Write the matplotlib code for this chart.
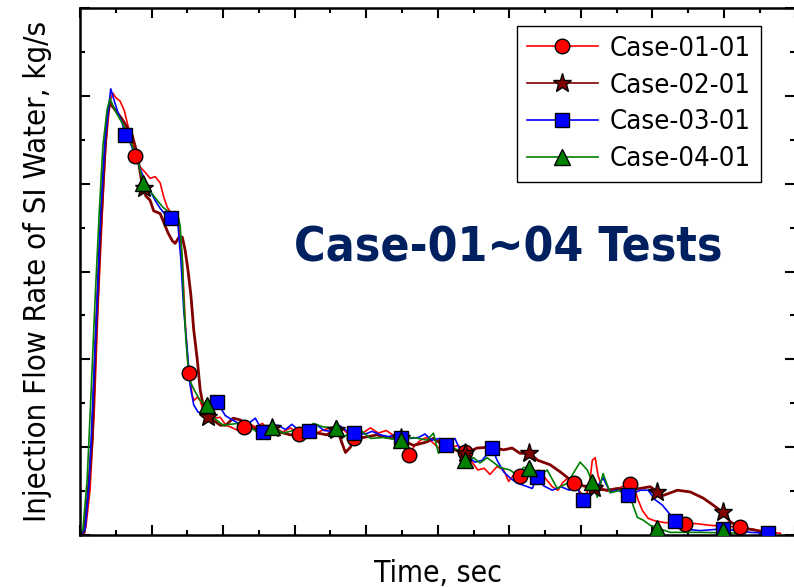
import numpy as np
import matplotlib
matplotlib.use("Agg")
import matplotlib.pyplot as plt
from matplotlib.lines import Line2D

# Case-01-01 (red)
c1_t = [0, 8, 14, 20, 25, 31, 36, 42, 46, 50, 56, 62, 67, 73, 77, 84, 91, 98, 105, 112, 117, 122, 127, 134,
        138, 143, 147, 151, 154, 157, 159, 164, 168, 172, 179, 187, 196, 204, 213, 221, 229, 238, 246, 255,
        263, 273, 283, 294, 306, 316, 327, 338, 350, 361, 372, 383, 395, 406, 417, 428, 439, 448, 455, 460,
        467, 476, 484, 492, 501, 510, 520, 529, 538, 548, 556, 565, 573, 583, 592, 599, 607, 615, 624, 632,
        641, 650, 660, 668, 675, 682, 691, 699, 706, 712, 716, 720, 724, 730, 737, 744, 752, 761, 768, 775,
        780, 786, 794, 804, 818, 832, 846, 860, 881, 902, 923, 944, 965, 979]
c1_y = [0, 0.08, 0.51, 1.42, 2.56, 3.64, 4.43, 4.94, 5.03, 4.98, 4.94, 4.83, 4.66, 4.47, 4.32, 4.19, 4.13,
        4.06, 4.08, 4.01, 3.85, 3.73, 3.67, 3.68, 3.58, 3.13, 2.44, 1.93, 1.76, 1.59, 1.53, 1.57, 1.53, 1.42,
        1.36, 1.33, 1.34, 1.25, 1.22, 1.19, 1.23, 1.26, 1.23, 1.27, 1.19, 1.23, 1.17, 1.22, 1.15, 1.19, 1.14,
        1.19, 1.22, 1.25, 1.17, 1.11, 1.16, 1.22, 1.16, 1.19, 1.13, 1.05, 0.97, 0.91, 1.01, 1.08, 1.11, 1.06,
        0.99, 1.04, 1.00, 1.02, 0.94, 0.83, 0.74, 0.76, 0.69, 0.78, 0.74, 0.61, 0.69, 0.67, 0.74, 0.65, 0.74,
        0.65, 0.55, 0.51, 0.60, 0.65, 0.59, 0.49, 0.42, 0.57, 0.85, 0.88, 0.68, 0.53, 0.50, 0.51, 0.53, 0.56,
        0.58, 0.53, 0.40, 0.28, 0.19, 0.16, 0.14, 0.14, 0.13, 0.13, 0.11, 0.10, 0.09, 0.06, 0.03, 0.02]
c1_mt = [77, 152, 229, 306, 383, 460, 538, 615, 691, 768, 846, 923]
c1_my = [4.32, 1.84, 1.23, 1.15, 1.11, 0.91, 0.94, 0.67, 0.59, 0.58, 0.13, 0.09]

# Case-02-01 (dark red)
c2_t = [0, 6, 11, 17, 22, 28, 34, 38, 42, 48, 53, 60, 66, 73, 80, 87, 92, 98, 103, 112, 117, 123, 129, 133,
        139, 143, 147, 151, 155, 159, 164, 168, 172, 179, 186, 196, 204, 214, 224, 238, 252, 266, 280, 294,
        310, 326, 345, 359, 366, 371, 378, 385, 396, 415, 429, 448, 466, 485, 494, 503, 517, 538, 555, 573,
        592, 604, 615, 628, 640, 657, 671, 685, 699, 716, 737, 751, 765, 783, 797, 807, 815, 835, 853, 871,
        885, 898, 909, 923, 941, 961]
c2_y = [0, 0.03, 0.45, 1.08, 2.22, 3.35, 4.26, 4.77, 4.92, 4.85, 4.80, 4.72, 4.64, 4.55, 4.34, 3.98, 3.86,
        3.81, 3.69, 3.66, 3.56, 3.44, 3.35, 3.32, 3.40, 3.39, 3.24, 3.01, 2.73, 2.33, 1.99, 1.65, 1.48, 1.36,
        1.31, 1.25, 1.25, 1.33, 1.31, 1.23, 1.19, 1.22, 1.17, 1.14, 1.14, 1.17, 1.14, 1.22, 1.05, 0.94, 1.00,
        1.14, 1.11, 1.14, 1.11, 1.09, 1.02, 1.06, 1.10, 1.05, 0.99, 0.93, 0.99, 1.00, 0.97, 0.99, 0.93, 0.93,
        0.85, 0.80, 0.72, 0.63, 0.57, 0.53, 0.51, 0.53, 0.51, 0.53, 0.55, 0.49, 0.45, 0.51, 0.49, 0.42, 0.34,
        0.26, 0.15, 0.08, 0.06, 0.02]
c2_mt = [90, 179, 269, 358, 448, 538, 628, 719, 807, 898]
c2_my = [3.95, 1.34, 1.22, 1.20, 1.10, 0.93, 0.93, 0.53, 0.49, 0.26]

# Case-03-01 (blue)
c3_t = [0, 7, 13, 18, 24, 29, 35, 41, 43, 48, 53, 59, 63, 70, 77, 84, 91, 98, 105, 112, 119, 127, 133, 137,
        141, 145, 150, 154, 159, 165, 172, 182, 192, 203, 213, 224, 234, 245, 256, 266, 277, 287, 296, 308,
        320, 330, 341, 352, 364, 375, 383, 399, 408, 420, 431, 441, 448, 462, 473, 482, 492, 503, 512, 524,
        531, 541, 552, 562, 576, 583, 592, 601, 611, 622, 632, 639, 648, 660, 672, 684, 694, 703, 712, 720,
        731, 741, 752, 766, 783, 794, 804, 814, 822, 832, 842, 853, 867, 898, 937, 961, 972]
c3_y = [0, 0.06, 0.63, 1.53, 2.67, 3.69, 4.49, 4.94, 5.08, 4.94, 4.81, 4.69, 4.55, 4.47, 4.32, 4.17, 4.03,
        3.92, 3.81, 3.72, 3.65, 3.61, 3.61, 3.52, 3.13, 2.56, 2.10, 1.70, 1.48, 1.40, 1.38, 1.42, 1.51, 1.36,
        1.31, 1.26, 1.26, 1.33, 1.17, 1.24, 1.25, 1.20, 1.26, 1.18, 1.18, 1.26, 1.19, 1.18, 1.24, 1.17, 1.16,
        1.15, 1.18, 1.14, 1.12, 1.14, 1.10, 1.10, 1.11, 1.15, 1.08, 1.10, 1.03, 1.10, 0.97, 0.90, 0.83, 0.85,
        0.99, 0.85, 0.72, 0.65, 0.59, 0.56, 0.53, 0.66, 0.56, 0.51, 0.55, 0.51, 0.55, 0.40, 0.43, 0.51, 0.65,
        0.49, 0.51, 0.45, 0.51, 0.51, 0.40, 0.34, 0.26, 0.16, 0.09, 0.06, 0.05, 0.07, 0.03, 0.02, 0.02]
c3_mt = [63, 127, 192, 256, 320, 383, 448, 512, 576, 639, 703, 766, 832, 898, 961]
c3_my = [4.55, 3.61, 1.51, 1.17, 1.18, 1.16, 1.10, 1.03, 0.99, 0.66, 0.40, 0.45, 0.16, 0.07, 0.02]

# Case-04-01 (green)
c4_t = [0, 4, 10, 15, 21, 27, 32, 38, 42, 49, 59, 67, 74, 80, 88, 95, 105, 116, 126, 136, 140, 143, 145,
        148, 151, 155, 161, 168, 178, 186, 200, 220, 238, 252, 269, 284, 298, 312, 326, 340, 358, 368, 387,
        406, 424, 448, 466, 485, 494, 501, 510, 527, 538, 550, 559, 569, 587, 601, 611, 620, 628, 639, 653,
        667, 681, 699, 709, 716, 723, 731, 741, 755, 765, 772, 779, 787, 797, 807, 825, 867, 923]
c4_y = [0, 0.06, 0.63, 1.53, 2.67, 3.69, 4.43, 4.85, 4.97, 4.83, 4.69, 4.57, 4.40, 4.30, 4.01, 3.95, 3.84,
        3.73, 3.67, 3.67, 3.52, 3.13, 2.67, 2.22, 1.93, 1.73, 1.63, 1.53, 1.48, 1.34, 1.25, 1.27, 1.23, 1.14,
        1.23, 1.16, 1.19, 1.16, 1.27, 1.23, 1.22, 1.11, 1.23, 1.10, 1.11, 1.08, 1.11, 1.08, 1.16, 0.93, 1.05,
        0.97, 0.85, 0.88, 0.82, 0.88, 0.77, 0.74, 0.68, 0.77, 0.76, 0.66, 0.74, 0.53, 0.59, 0.83, 0.74, 0.60,
        0.43, 0.70, 0.48, 0.51, 0.49, 0.36, 0.20, 0.17, 0.11, 0.08, 0.03, 0.03, 0.02]
c4_mt = [88, 178, 269, 358, 448, 538, 628, 716, 807, 898]
c4_my = [4.01, 1.48, 1.23, 1.22, 1.08, 0.85, 0.76, 0.60, 0.08, 0.06]

labels = ["Case-01-01", "Case-02-01", "Case-03-01", "Case-04-01"]

plt.rcParams["font.family"] = "DejaVu Sans"
plt.rcParams["font.stretch"] = "condensed"

fig = plt.figure(figsize=(7.94, 5.88), dpi=100)
ax = fig.add_axes([80 / 794, 53 / 588, 715.5 / 794, 527 / 588])

series = [
    (c1_t, c1_y, c1_mt, c1_my, "#ff0000", "o", 10.5, 1.2),
    (c2_t, c2_y, c2_mt, c2_my, "#800000", "*", 14, 2.0),
    (c3_t, c3_y, c3_mt, c3_my, "#0000ff", "s", 10, 1.2),
    (c4_t, c4_y, c4_mt, c4_my, "#008000", "^", 12, 1.2),
]
handles = []
for t, y, mt, my, col, mk, ms, lw in series:
    ax.plot(t, y, color=col, lw=lw, zorder=2)
for t, y, mt, my, col, mk, ms, lw in series:
    ax.plot(mt, my, ls="none", marker=mk, ms=ms, mfc=col, mec="black", mew=1.0, zorder=3)
    handles.append(Line2D([], [], color=col, lw=1.2, marker=mk, ms=ms, mfc=col, mec="black", mew=1.0))

ax.set_xlim(0, 1000)
ax.set_ylim(0, 6)
ax.set_xticks(np.arange(0, 1001, 100))
ax.set_xticks(np.arange(50, 1000, 100), minor=True)
ax.set_yticks(np.arange(0, 6.1, 1))
ax.set_yticks(np.arange(0.5, 6, 1), minor=True)
ax.tick_params(which="both", direction="in", top=True, right=True, width=1.5,
               labelbottom=False, labelleft=False)
ax.tick_params(which="major", length=7)
ax.tick_params(which="minor", length=3.5)
for s in ax.spines.values():
    s.set_linewidth(1.8)

ax.set_xlabel("Time, sec", fontsize=21.5, labelpad=17)
ax.set_ylabel("Injection Flow Rate of SI Water, kg/s", fontsize=22.3, labelpad=20)

ax.text(0.598, 0.545, "Case-01~04 Tests", transform=ax.transAxes, ha="center", va="center",
        fontsize=34.5, fontweight="bold", color="#002060")

leg = ax.legend(handles, labels, loc="upper left", bbox_to_anchor=(517 / 794, 1 - 26 / 588),
                bbox_transform=fig.transFigure, fontsize=19.7, frameon=True, fancybox=False,
                edgecolor="black", framealpha=1, borderaxespad=0, handlelength=2.6,
                handletextpad=0.45, labelspacing=0.4, borderpad=0.35)
leg.get_frame().set_linewidth(1.0)

fig.savefig("out.png", dpi=100)
